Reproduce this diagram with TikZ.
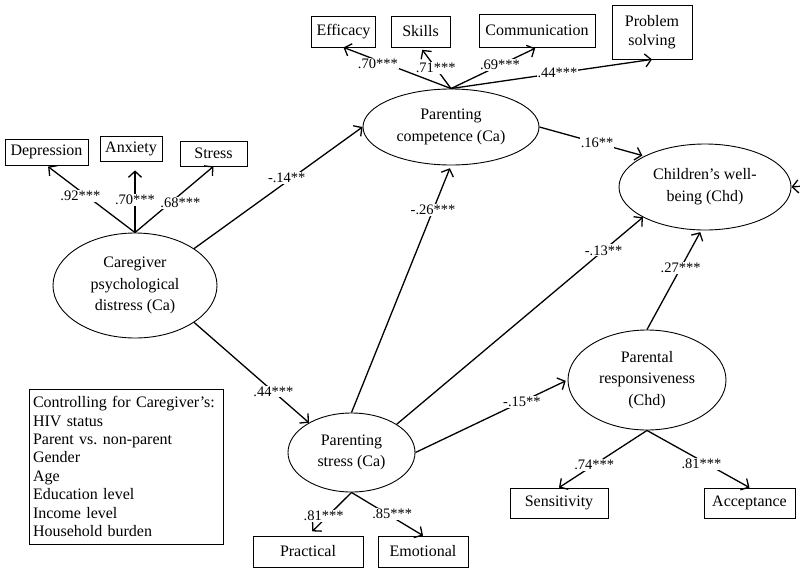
\documentclass[tikz,border=0pt]{standalone}
\usepackage{fontspec}
\setmainfont{Liberation Serif}
\usetikzlibrary{arrows.meta,shapes.geometric,calc}
\begin{document}
\begin{tikzpicture}[x=1pt,y=-1pt,
  box/.style={draw, line width=0.8pt, inner sep=0pt, font=\fontsize{16}{19}\selectfont, align=center},
  lat/.style={draw, ellipse, line width=0.9pt, inner sep=0pt, font=\fontsize{16}{21.7}\selectfont, align=center},
  pth/.style={line width=1.3pt, -{Straight Barb[length=6pt,width=13pt,line width=1.3pt]}},
  lab/.style={fill=white, inner sep=1pt, font=\fontsize{14.5}{16}\selectfont}]
\useasboundingbox (0,0) rectangle (800,573);
\fill[white] (0,0) rectangle (800,573);
% indicator boxes
\node[box, minimum width=64pt, minimum height=31pt] (eff) at (343.5,31.5) {Efficacy};
\node[box, minimum width=59pt, minimum height=31pt] (sk) at (420.5,31.5) {Skills};
\node[box, minimum width=116pt, minimum height=33pt] (comm) at (537,30.5) {Communication};
\node[box, minimum width=80pt, minimum height=54pt] (ps) at (652,32) {Problem\\solving};
\node[box, minimum width=83pt, minimum height=26pt] (dep) at (46.5,152) {Depression};
\node[box, minimum width=62pt, minimum height=25pt] (anx) at (131,148.5) {Anxiety};
\node[box, minimum width=67pt, minimum height=25pt] (str) at (213.5,153.5) {Stress};
\node[box, minimum width=110pt, minimum height=31pt] (prac) at (308,551.5) {Practical};
\node[box, minimum width=90pt, minimum height=31pt] (emo) at (423,551.5) {Emotional};
\node[box, minimum width=98pt, minimum height=30pt] (sens) at (559,503) {Sensitivity};
\node[box, minimum width=91pt, minimum height=30pt] (acc) at (749.5,503) {Acceptance};
\node[draw, line width=0.8pt, minimum width=194pt, minimum height=155pt, text width=186pt, inner sep=4pt, align=left,
  font=\fontsize{16}{18.4}\selectfont] (ctrl) at (126,466.5)
  {Controlling for Caregiver’s:\\HIV status\\Parent vs.\ non-parent\\Gender\\Age\\Education level\\Income level\\Household burden};
% latent variables
\node[lat, minimum width=176pt, minimum height=76pt] (comp) at (451,127) {Parenting\\competence (Ca)};
\node[lat, minimum width=172pt, minimum height=86pt] (chw) at (705,187) {Children’s well-\\being (Chd)};
\node[lat, minimum width=164pt, minimum height=105pt] (cg) at (135,285.5) {Caregiver\\psychological\\distress (Ca)};
\node[lat, minimum width=127pt, minimum height=79pt] (pst) at (351.5,452.5) {Parenting\\stress (Ca)};
\node[lat, minimum width=158pt, minimum height=100pt] (resp) at (647,380) {Parental\\responsiveness\\(Chd)};
\coordinate (res) at (815,185);
% measurement paths
\draw[pth] (comp.north) -- node[lab,pos=0.68,yshift=-3pt]{.70***} (eff.south);
\draw[pth,shorten >=3pt] (comp.north) -- node[lab,pos=0.5]{.71***} (sk.south);
\draw[pth,shorten >=2pt] (comp.north) -- node[lab,pos=0.57]{.69***} (comm.south);
\draw[pth] (comp.north) -- node[lab,pos=0.53]{.44***} (ps.south);
\draw[pth,shorten >=2pt] (cg.north) -- node[lab,pos=0.55,xshift=-6pt]{.92***} (dep.south);
\draw[pth,shorten >=9pt] (cg.north) -- node[lab,pos=0.46]{.70***} (anx.south -| cg.north);
\draw[pth] (cg.north) -- node[lab,pos=0.45,xshift=10pt]{.68***} (str.south);
\draw[pth,shorten >=6pt] (pst.south) -- node[lab,pos=0.55,xshift=-4pt]{.81***} (prac.north);
\draw[pth] (pst.south) -- node[lab,pos=0.5,xshift=5pt]{.85***} (emo.north);
\draw[pth] (resp.south) -- node[lab,pos=0.6]{.74***} (sens.north);
\draw[pth] (resp.south) -- node[lab,pos=0.58,xshift=-5pt]{.81***} (acc.north);
% structural paths
\draw[pth] (cg.32) -- node[lab,pos=0.55,yshift=4pt]{-.14**} (comp.west);
\draw[pth] (cg.-32) -- node[lab,pos=0.69]{.44***} (pst.145);
\draw[pth,shorten >=3pt] (pst.north) -- node[lab,pos=0.82]{-.26***} (comp.south);
\draw[pth] (pst.32) -- node[lab,pos=0.84]{-.13**} (chw.206);
\draw[pth,shorten >=2pt] (pst.east) -- node[lab,pos=0.7]{-.15**} (resp.west);
\draw[pth,shorten >=2pt] (resp.north) -- node[lab,pos=0.62]{.27***} (chw.265);
\draw[pth,shorten >=2pt] (comp.east) -- node[lab,pos=0.55]{.16**} (chw.153);
\draw[pth] (res) -- (chw.east);
\end{tikzpicture}
\end{document}
